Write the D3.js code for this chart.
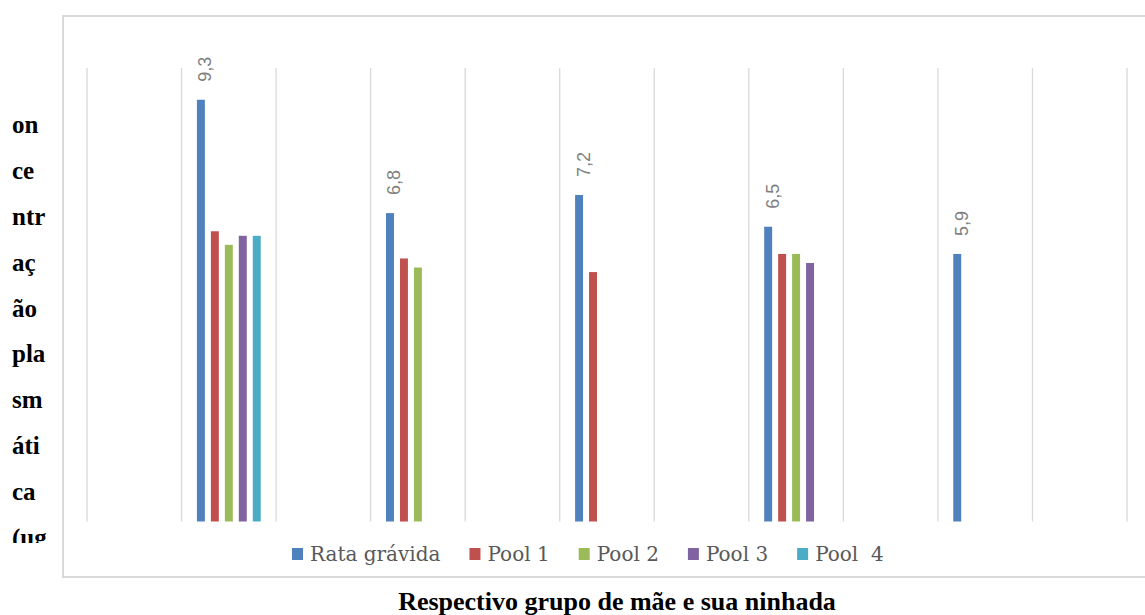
<!DOCTYPE html>
<html lang="pt">
<head>
<meta charset="utf-8">
<script src="https://cdn.jsdelivr.net/npm/d3@7"></script>
<style>
  html, body { margin: 0; padding: 0; background: #ffffff; }
  svg { display: block; }
</style>
</head>
<body>
<svg id="chart" width="1145" height="615"></svg>
<script>
// Category slots along the x axis (empty slots separate the groups)
const categories = ["", "Grupo 1", "", "Grupo 2", "", "Grupo 3", "", "Grupo 4", "", "Grupo 5", ""];
const groups = ["Grupo 1", "Grupo 2", "Grupo 3", "Grupo 4", "Grupo 5"];

// Series (plasma concentration per group; null = no sample)
const seriesNames = ["Rata grávida", "Pool 1", "Pool 2", "Pool 3", "Pool  4"];
const rataGravida = [9.3, 6.8, 7.2, 6.5, 5.9];
const pool1 = [6.4, 5.8, 5.5, 5.9, null];
const pool2 = [6.1, 5.6, null, 5.9, null];
const pool3 = [6.3, null, null, 5.7, null];
const pool4 = [6.3, null, null, null, null];
const seriesValues = [rataGravida, pool1, pool2, pool3, pool4];
const seriesColors = ["#4F81BD", "#C0504D", "#9BBB59", "#8064A2", "#4BACC6"];

// Value labels are shown for the first series only
const labelledSeries = 0;

// Axis extent
const yDomain = [0, 10];

// Wrapped vertical axis title (visible lines)
const yTitleLines = ["on", "ce", "ntr", "aç", "ão", "pla", "sm", "áti", "ca", "(ug"];
const xTitle = "Respectivo grupo de mãe e sua ninhada";

const svg = d3.select("#chart");

// Chart area frame
svg.append("rect")
  .attr("x", 63).attr("y", 16)
  .attr("width", 1120).attr("height", 561)
  .attr("fill", "#ffffff")
  .attr("stroke", "#d9d9d9")
  .attr("stroke-width", 2);

const plot = { left: 87, right: 1127, top: 68, bottom: 521.5 };

const x0 = d3.scaleBand()
  .domain(d3.range(categories.length))
  .range([plot.left, plot.right])
  .padding(0);

const x1 = d3.scaleBand()
  .domain(d3.range(seriesNames.length))
  .range([0, x0.bandwidth()])
  .paddingInner(0.43)
  .paddingOuter(1.1);

const y = d3.scaleLinear().domain(yDomain).range([plot.bottom, plot.top]);

// Vertical gridlines at category boundaries
const boundaries = d3.range(categories.length + 1);
svg.append("g")
  .selectAll("line")
  .data(boundaries)
  .join("line")
  .attr("x1", i => plot.left + i * x0.step())
  .attr("x2", i => plot.left + i * x0.step())
  .attr("y1", y(yDomain[1]))
  .attr("y2", y(yDomain[0]))
  .attr("stroke", "#d9d9d9")
  .attr("stroke-width", 1.3);

// Flatten data into bar records
const bars = [];
groups.forEach((g, gi) => {
  const slot = categories.indexOf(g);
  seriesValues.forEach((vals, si) => {
    if (vals[gi] != null) bars.push({ slot, si, value: vals[gi] });
  });
});

svg.append("g")
  .selectAll("rect")
  .data(bars)
  .join("rect")
  .attr("x", d => x0(d.slot) + x1(d.si))
  .attr("y", d => y(d.value))
  .attr("width", x1.bandwidth())
  .attr("height", d => y(0) - y(d.value))
  .attr("fill", d => seriesColors[d.si]);

// Rotated value labels above the first series
const fmt = v => d3.format(".1f")(v).replace(".", ",");
svg.append("g")
  .selectAll("text")
  .data(bars.filter(d => d.si === labelledSeries))
  .join("text")
  .attr("transform", d => {
    const cx = x0(d.slot) + x1(d.si) + x1.bandwidth() / 2;
    return `translate(${cx},${y(d.value) - 18}) rotate(-90)`;
  })
  .attr("dy", "0.58em")
  .attr("text-anchor", "start")
  .attr("font-family", "'Liberation Sans', Arial, sans-serif")
  .attr("font-size", 18)
  .attr("fill", "#7f7f7f")
  .text(d => fmt(d.value));

// Legend
const legend = svg.append("g").attr("transform", "translate(292,0)");
let lx = 0;
seriesNames.forEach((name, i) => {
  const item = legend.append("g").attr("transform", `translate(${lx},0)`);
  item.append("rect")
    .attr("x", 0).attr("y", 548)
    .attr("width", 11).attr("height", 12)
    .attr("fill", seriesColors[i]);
  const t = item.append("text")
    .attr("x", 18).attr("y", 561)
    .attr("xml:space", "preserve")
    .attr("font-family", "'DejaVu Serif', serif")
    .attr("font-size", 20)
    .attr("fill", "#595959")
    .text(name);
  lx += 18 + t.node().getComputedTextLength() + 29;
});

// Wrapped y-axis title, clipped at the bottom
svg.append("clipPath").attr("id", "ytitle-clip")
  .append("rect").attr("x", 0).attr("y", 0).attr("width", 62).attr("height", 543);

svg.append("g")
  .attr("clip-path", "url(#ytitle-clip)")
  .selectAll("text")
  .data(yTitleLines)
  .join("text")
  .attr("x", 12)
  .attr("y", (d, i) => 133.3 + i * 45.8)
  .attr("font-family", "'Liberation Serif', 'Times New Roman', serif")
  .attr("font-weight", "bold")
  .attr("font-size", 25)
  .attr("fill", "#000000")
  .text(d => d);

// x-axis title below the frame
svg.append("text")
  .attr("x", 617)
  .attr("y", 610)
  .attr("text-anchor", "middle")
  .attr("font-family", "'Liberation Serif', 'Times New Roman', serif")
  .attr("font-weight", "bold")
  .attr("font-size", 26)
  .attr("fill", "#000000")
  .text(xTitle);
</script>
</body>
</html>
